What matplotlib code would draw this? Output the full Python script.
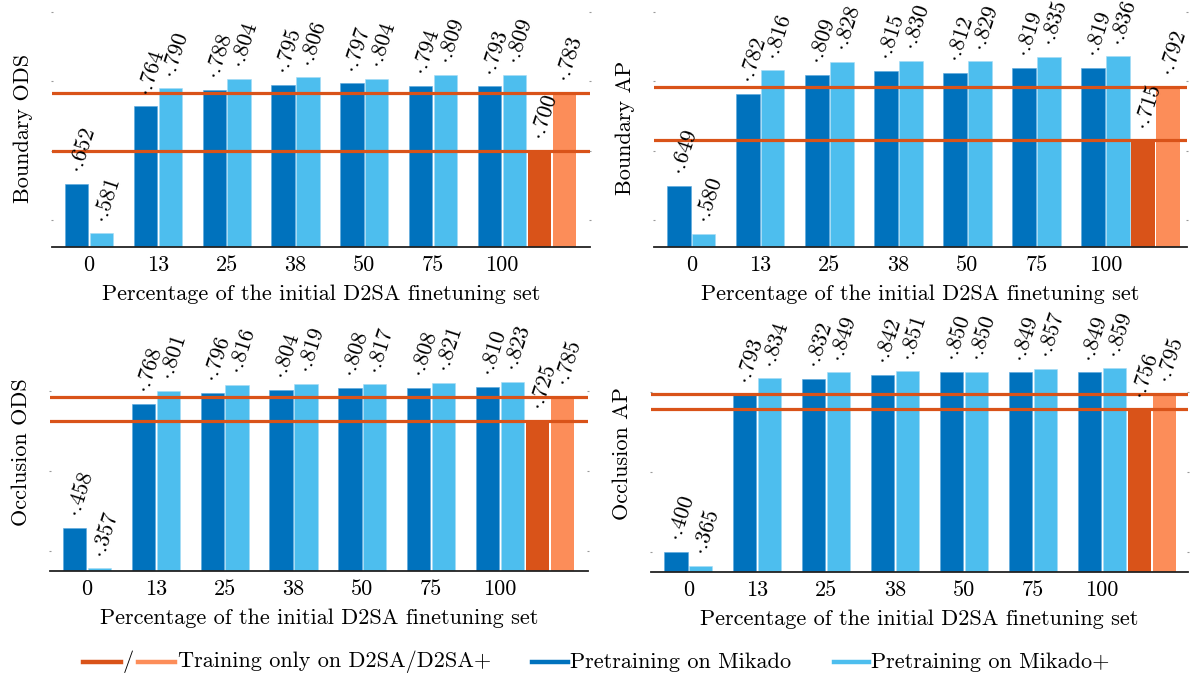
import matplotlib
matplotlib.use("Agg")
import matplotlib.pyplot as plt
from matplotlib.lines import Line2D
import numpy as np

plt.rcParams['font.family'] = 'serif'
plt.rcParams['font.serif'] = ['cmr10']
plt.rcParams['mathtext.fontset'] = 'cm'
plt.rcParams['axes.unicode_minus'] = False
plt.rcParams['axes.formatter.use_mathtext'] = True

# ---------------- data ----------------
categories = ["0", "13", "25", "38", "50", "75", "100"]

bods_mikado = [0.652, 0.764, 0.788, 0.795, 0.797, 0.794, 0.793]
bods_mikado_plus = [0.581, 0.790, 0.804, 0.806, 0.804, 0.809, 0.809]
bods_d2sa = 0.700
bods_d2sa_plus = 0.783

bap_mikado = [0.649, 0.782, 0.809, 0.815, 0.812, 0.819, 0.819]
bap_mikado_plus = [0.580, 0.816, 0.828, 0.830, 0.829, 0.835, 0.836]
bap_d2sa = 0.715
bap_d2sa_plus = 0.792

oods_mikado = [0.458, 0.768, 0.796, 0.804, 0.808, 0.808, 0.810]
oods_mikado_plus = [0.357, 0.801, 0.816, 0.819, 0.817, 0.821, 0.823]
oods_d2sa = 0.725
oods_d2sa_plus = 0.785

oap_mikado = [0.400, 0.793, 0.832, 0.842, 0.850, 0.849, 0.849]
oap_mikado_plus = [0.365, 0.834, 0.849, 0.851, 0.850, 0.857, 0.859]
oap_d2sa = 0.756
oap_d2sa_plus = 0.795

ylabels = ["Boundary ODS", "Boundary AP", "Occlusion ODS", "Occlusion AP"]
xlabel = "Percentage of the initial D2SA finetuning set"

# ---------------- style ----------------
C_MIK = '#0072BD'
C_MIKP = '#4DBEEE'
C_D2 = '#D95319'
C_D2P = '#FC8D59'

W, H = 1190, 677
fig = plt.figure(figsize=(W / 100, H / 100), dpi=100)

# axes pixel boxes: left, top, right, bottom ; x range ; y range
panels = [
    dict(box=(52, 8.6, 590, 247.3), xlim=(-0.54, 7.28), ylim=(0.5606, 0.905),
         yt=[0.6, 0.7, 0.8, 0.9], mik=bods_mikado, mikp=bods_mikado_plus,
         d2=bods_d2sa, d2p=bods_d2sa_plus, yl=ylabels[0]),
    dict(box=(654, 8.6, 1187, 247.3), xlim=(-0.54, 7.18), ylim=(0.5606, 0.905),
         yt=[0.6, 0.7, 0.8, 0.9], mik=bap_mikado, mikp=bap_mikado_plus,
         d2=bap_d2sa, d2p=bap_d2sa_plus, yl=ylabels[1]),
    dict(box=(50, 332.7, 588, 570.7), xlim=(-0.54, 7.28), ylim=(0.351, 0.946),
         yt=[0.4, 0.6, 0.8], mik=oods_mikado, mikp=oods_mikado_plus,
         d2=oods_d2sa, d2p=oods_d2sa_plus, yl=ylabels[2]),
    dict(box=(651, 334.3, 1188, 572.3), xlim=(-0.54, 7.25), ylim=(0.3485, 0.944),
         yt=[0.4, 0.6, 0.8], mik=oap_mikado, mikp=oap_mikado_plus,
         d2=oap_d2sa, d2p=oap_d2sa_plus, yl=ylabels[3]),
]

FS = 16
x = np.arange(len(categories))
bw = 0.34
off = 0.18

def lab(ax, xv, v):
    s = r'$\cdot$' + f"{v:.3f}"[1:]
    ax.annotate(s, xy=(xv, v), xytext=(-1, 8), textcoords='offset points',
                rotation=72, rotation_mode='anchor', ha='left', va='center',
                fontsize=FS, zorder=5)

for p in panels:
    l, t, r, b = p['box']
    ax = fig.add_axes([l / W, 1 - b / H, (r - l) / W, (b - t) / H])
    ax.set_xlim(*p['xlim'])
    ax.set_ylim(*p['ylim'])
    ax.bar(x - off, p['mik'], width=bw, color=C_MIK, edgecolor='#5aa8dd', linewidth=0.4, zorder=2)
    ax.bar(x + off, p['mikp'], width=bw, color=C_MIKP, edgecolor='#a5dcf5', linewidth=0.4, zorder=2)
    xd = x[-1] + 0.545
    xdp = x[-1] + 0.908
    ax.bar([xd], [p['d2']], width=bw, color=C_D2, linewidth=0, zorder=2)
    ax.bar([xdp], [p['d2p']], width=bw, color=C_D2P, linewidth=0, zorder=2)
    ax.axhline(p['d2'], color=C_D2, lw=2.3, zorder=3)
    ax.axhline(p['d2p'], color=C_D2, lw=2.3, zorder=3)
    for xi, v in zip(x - off, p['mik']):
        lab(ax, xi, v)
    for xi, v in zip(x + off, p['mikp']):
        lab(ax, xi, v)
    lab(ax, xd, p['d2'])
    lab(ax, xdp, p['d2p'])

    ax.set_xticks(x)
    ax.set_xticklabels(categories, fontsize=FS)
    ax.tick_params(axis='x', length=0, pad=6)
    ax.set_yticks(p['yt'])
    ax.tick_params(axis='y', left=True, right=True, labelleft=False,
                   length=2, width=0.8, color='#999999', direction='inout')
    for s in ['left', 'right', 'top']:
        ax.spines[s].set_visible(False)
    ax.spines['bottom'].set_color('#222222')
    ax.spines['bottom'].set_linewidth(1.3)
    ax.spines['bottom'].set_zorder(4)
    ax.set_xlabel(xlabel, fontsize=FS, labelpad=7)
    ax.set_ylabel(p['yl'], fontsize=FS, labelpad=13)

# ---------------- legend ----------------
ly = 1 - 662 / H
def hline(x0, x1, c):
    fig.add_artist(Line2D([x0 / W, x1 / W], [ly, ly], color=c, lw=3.2,
                          transform=fig.transFigure))

hline(83, 121, C_D2)
fig.text(128 / W, ly, '/', fontsize=FS, ha='center', va='center')
hline(138, 175, C_D2P)
fig.text(178 / W, ly, 'Training only on D2SA/D2SA+', fontsize=FS, ha='left', va='center')
hline(532, 568, C_MIK)
fig.text(570 / W, ly, 'Pretraining on Mikado', fontsize=FS, ha='left', va='center')
hline(834, 869, C_MIKP)
fig.text(871 / W, ly, 'Pretraining on Mikado+', fontsize=FS, ha='left', va='center')

fig.savefig('out.png', dpi=100)
